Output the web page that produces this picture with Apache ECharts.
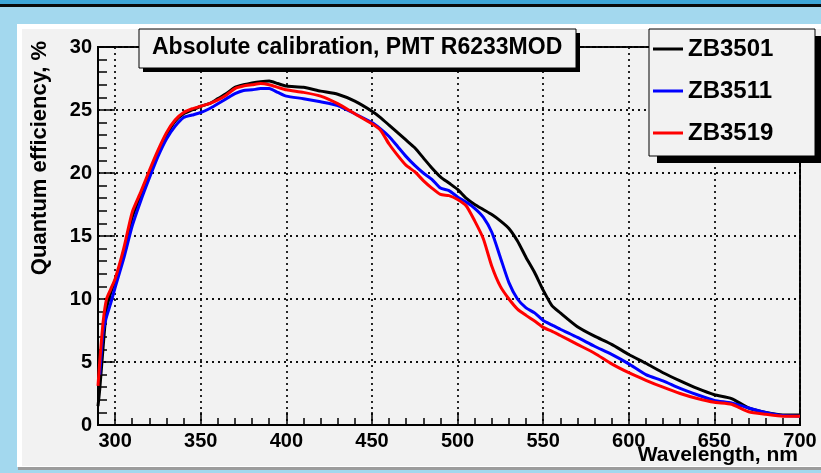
<!DOCTYPE html>
<html>
<head>
<meta charset="utf-8">
<script src="https://cdn.jsdelivr.net/npm/echarts@6/dist/echarts.min.js"></script>
<style>
html, body { margin: 0; padding: 0; background: #a3d8ee; }
#chart { width: 821px; height: 473px; }
</style>
</head>
<body>
<div id="chart"></div>
<script>
// wavelength grid, nm
const wavelength = [290, 291, 293, 295, 297.5, 300, 305, 310, 315, 320, 325, 330, 335, 340, 345, 350, 355, 360, 365, 370,
    375, 380, 385, 390, 395, 400, 410, 420, 430, 440, 450, 455, 460, 465, 470, 475, 480, 485, 490, 495,
    500, 505, 510, 515, 520, 525, 530, 535, 540, 545, 550, 555, 560, 570, 580, 590, 600, 610, 620, 630,
    640, 650, 660, 670, 680, 690, 700]

// quantum efficiency, %
const zb3501 = [1.5, 2.8, 6.2, 9.2, 10.5, 11.5, 13.6, 16.5, 18.3, 20.0, 21.6, 23.0, 24.1, 24.7, 25.0, 25.3, 25.5, 25.9, 26.3, 26.8,
    27.0, 27.15, 27.25, 27.3, 27.1, 26.9, 26.8, 26.5, 26.25, 25.7, 24.9, 24.4, 23.8, 23.2, 22.6, 22.0, 21.2, 20.4, 19.7, 19.2,
    18.7, 18.0, 17.5, 17.1, 16.7, 16.2, 15.6, 14.6, 13.3, 12.1, 10.7, 9.5, 8.9, 7.8, 7.05, 6.4, 5.6, 4.9, 4.15, 3.5,
    2.9, 2.4, 2.1, 1.35, 1.0, 0.8, 0.8]
const zb3511 = [null, 4.0, 7.4, 8.6, 9.7, 10.9, 13.2, 15.8, 17.8, 19.6, 21.3, 22.7, 23.7, 24.4, 24.6, 24.8, 25.1, 25.5, 25.9, 26.3,
    26.55, 26.6, 26.7, 26.7, 26.4, 26.1, 25.9, 25.65, 25.35, 24.7, 24.0, 23.5, 22.9, 22.1, 21.3, 20.6, 20.0, 19.5, 18.8, 18.6,
    18.1, 17.7, 17.2, 16.5, 15.3, 13.3, 11.3, 10.0, 9.3, 8.9, 8.3, 7.95, 7.6, 6.95, 6.25, 5.6, 4.85, 4.0, 3.5, 2.9,
    2.4, 1.95, 1.75, 1.35, 1.0, 0.75, 0.7]
const zb3519 = [3.1, 5.0, 8.2, 10.0, 10.8, 11.6, 14.0, 16.9, 18.5, 20.2, 21.8, 23.2, 24.2, 24.8, 25.1, 25.3, 25.5, 25.8, 26.2, 26.7,
    26.9, 27.0, 27.1, 27.0, 26.8, 26.6, 26.4, 26.1, 25.5, 24.7, 23.9, 23.4, 22.3, 21.4, 20.6, 20.1, 19.4, 18.8, 18.3, 18.2,
    17.9, 17.4, 16.2, 14.8, 12.6, 11.0, 10.0, 9.2, 8.7, 8.25, 7.75, 7.45, 7.1, 6.4, 5.7, 4.85, 4.15, 3.55, 3.0, 2.5,
    2.1, 1.8, 1.65, 1.05, 0.85, 0.7, 0.7]

const seriesNames = ['ZB3501', 'ZB3511', 'ZB3519']
const seriesColors = ['#000000', '#0000ff', '#ff0000']
const xTicks = [300, 350, 400, 450, 500, 550, 600, 650, 700]

const fontFamily = '"Liberation Sans", Arial, sans-serif'

const myChart = echarts.init(document.getElementById('chart'))

const toPairs = (values) => wavelength.map((w, i) => [w, values[i]])

// dotted grid lines
const gridLine = { show: true, lineStyle: { color: '#111', width: 1.8, type: [2, 4] } }

const option = {
    animation: false,
    grid: {
        left: 98,
        right: 21,
        top: 47,
        bottom: 48,
        show: true,
        borderColor: '#000',
        borderWidth: 2,
        backgroundColor: 'transparent'
    },
    xAxis: [
        {
            // minor ticks every 10 nm
            type: 'value',
            min: 290,
            max: 700,
            interval: 10,
            axisLine: { show: true, lineStyle: { color: '#000', width: 2 } },
            axisTick: { show: true, inside: true, length: 7, lineStyle: { color: '#000', width: 1.5 } },
            axisLabel: { show: false },
            splitLine: { show: false }
        },
        {
            // major ticks, labels and grid
            type: 'value',
            min: 290,
            max: 700,
            position: 'bottom',
            offset: 0,
            axisLine: { show: false },
            axisTick: { show: true, inside: true, length: 13, customValues: xTicks, lineStyle: { color: '#000', width: 1.5 } },
            axisLabel: {
                customValues: xTicks,
                margin: 6,
                color: '#000',
                fontSize: 20,
                fontWeight: 'bold',
                fontFamily: fontFamily
            },
            splitLine: gridLine
        }
    ],
    yAxis: {
        type: 'value',
        min: 0,
        max: 30,
        interval: 5,
        axisLine: { show: true, lineStyle: { color: '#000', width: 2 } },
        axisTick: { show: true, inside: true, length: 17, lineStyle: { color: '#000', width: 1.5 } },
        minorTick: { show: true, splitNumber: 5, length: 9, lineStyle: { color: '#000', width: 1.5 } },
        axisLabel: {
            margin: 6,
            color: '#000',
            fontSize: 20,
            fontWeight: 'bold',
            fontFamily: fontFamily
        },
        splitLine: gridLine
    },
    legend: {
        orient: 'vertical',
        left: 653,
        top: 37,
        padding: 0,
        z: 60,
        icon: 'rect',
        itemWidth: 30,
        itemHeight: 3,
        itemGap: 18,
        selectedMode: false,
        data: seriesNames,
        textStyle: { color: '#000', fontSize: 24, fontWeight: 'bold', fontFamily: fontFamily }
    },
    graphic: [
        // page background
        { type: 'rect', z: -20, shape: { x: 0, y: 0, width: 821, height: 473 }, style: { fill: '#a3d8ee' } },
        { type: 'rect', z: -19, shape: { x: 0, y: 0, width: 821, height: 4 }, style: { fill: '#3fa6d7' } },
        { type: 'rect', z: -19, shape: { x: 0, y: 4, width: 821, height: 3 }, style: { fill: '#0a0a0a' } },
        { type: 'rect', z: -18, shape: { x: 18, y: 466, width: 803, height: 4 }, style: { fill: '#9c9c9c' } },
        { type: 'rect', z: -17, shape: { x: 17, y: 24, width: 804, height: 443 }, style: { fill: '#ffffff' } },
        { type: 'rect', z: -16, shape: { x: 22, y: 29, width: 799, height: 437 }, style: { fill: '#f2f2f2' } },
        // title box
        { type: 'rect', z: 50, shape: { x: 143, y: 33, width: 437, height: 39 }, style: { fill: '#000' } },
        { type: 'rect', z: 51, shape: { x: 139, y: 29, width: 437, height: 39 }, style: { fill: '#f2f2f2', stroke: '#000', lineWidth: 1 } },
        {
            type: 'text', z: 52, x: 152, y: 48,
            style: { text: 'Absolute calibration, PMT R6233MOD', font: 'bold 23px ' + fontFamily, fill: '#000', textAlign: 'left', textVerticalAlign: 'middle' }
        },
        // legend box
        { type: 'rect', z: 50, shape: { x: 657, y: 36, width: 166, height: 127 }, style: { fill: '#000' } },
        { type: 'rect', z: 51, shape: { x: 649, y: 29, width: 166, height: 127 }, style: { fill: '#f2f2f2', stroke: '#000', lineWidth: 1 } },
        // axis titles
        {
            type: 'text', z: 52, x: 40, y: 158, rotation: Math.PI / 2,
            style: { text: 'Quantum efficiency, %', font: 'bold 22px ' + fontFamily, fill: '#000', textAlign: 'center', textVerticalAlign: 'middle' }
        },
        {
            type: 'text', z: 52, x: 798, y: 455,
            style: { text: 'Wavelength, nm', font: 'bold 21px ' + fontFamily, fill: '#000', textAlign: 'right', textVerticalAlign: 'middle' }
        }
    ],
    series: seriesNames.map((name, i) => ({
        name: name,
        type: 'line',
        xAxisIndex: 0,
        data: toPairs([zb3501, zb3511, zb3519][i]),
        symbol: 'none',
        smooth: 0.2,
        color: seriesColors[i],
        lineStyle: { color: seriesColors[i], width: 3 },
        z: 3 + i
    }))
}

myChart.setOption(option)
</script>
</body>
</html>
